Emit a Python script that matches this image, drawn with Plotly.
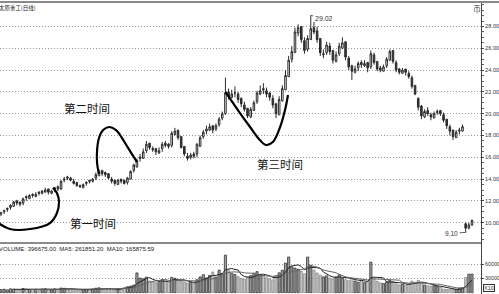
import plotly.graph_objects as go
import pandas as pd

# ---------------- data ----------------
open_ = [
    10.8, 11.0, 11.2, 11.4, 11.5, 12.0, 11.9, 11.8, 12.4, 12.2,
    12.6, 12.4, 12.8, 12.7, 12.8, 13.1, 12.7, 13.0, 13.3, 13.1,
    13.9, 14.2, 14.1, 13.8, 13.7, 13.4, 13.2, 13.6, 13.9, 13.8,
    14.1, 14.3, 14.8, 14.6, 14.5, 14.0, 13.9, 13.5, 14.0, 13.9,
    13.7, 14.0, 14.8, 15.1, 15.9, 15.9, 16.6, 17.3, 16.8, 16.8,
    16.4, 16.8, 17.3, 17.2, 17.1, 18.1, 18.5, 17.9, 17.0, 16.1,
    16.0, 16.3, 16.3, 17.0, 17.9, 18.4, 18.5, 18.9, 18.6, 19.0,
    19.6, 20.0, 22.0, 21.5, 21.9, 21.8, 21.4, 20.8, 20.5, 19.7,
    20.3, 21.1, 21.8, 22.3, 22.1, 21.9, 21.4, 20.9, 19.9, 21.2,
    22.2, 23.4, 25.0, 25.6, 27.4, 28.0, 26.7, 25.9, 26.8, 27.9,
    27.6, 26.9, 25.4, 25.6, 26.2, 25.8, 24.8, 25.5, 26.0, 26.6,
    25.1, 24.4, 23.8, 24.2, 24.7, 24.4, 24.7, 24.3, 25.4, 24.8,
    24.2, 23.9, 24.4, 24.9, 25.8, 24.7, 24.1, 23.7, 24.1, 23.7,
    23.3, 22.6, 21.4, 20.7, 19.7, 20.3, 19.9, 19.6, 20.1, 20.3,
    19.9, 19.5, 18.8, 18.5, 17.8, 18.4, 18.4, 9.9, 9.5, 9.8,
]
high = [
    11.0, 11.2, 11.4, 11.7, 12.0, 12.1, 11.9, 12.3, 12.5, 12.6,
    12.7, 12.8, 12.9, 13.0, 13.2, 13.1, 13.0, 13.3, 13.4, 13.9,
    14.2, 14.3, 14.2, 14.0, 13.7, 13.5, 13.6, 13.8, 13.9, 14.1,
    14.6, 14.9, 14.8, 14.7, 14.5, 14.2, 13.9, 14.0, 14.0, 13.9,
    14.2, 14.8, 15.4, 15.9, 16.3, 16.8, 17.5, 17.3, 17.0, 16.8,
    16.9, 17.4, 17.5, 17.3, 18.4, 18.7, 18.5, 17.9, 17.0, 16.4,
    16.4, 16.5, 17.3, 18.0, 18.5, 18.9, 19.1, 18.9, 19.1, 19.7,
    20.2, 23.3, 22.3, 22.2, 22.5, 22.0, 21.5, 21.1, 20.5, 20.6,
    21.2, 22.1, 22.6, 22.8, 22.4, 22.0, 21.7, 21.0, 21.6, 22.6,
    24.0, 25.3, 26.2, 27.9, 28.2, 28.0, 27.0, 27.2, 29.02, 28.4,
    28.0, 26.9, 25.9, 26.6, 26.5, 25.8, 25.7, 26.5, 27.0, 26.6,
    25.3, 24.5, 24.4, 24.8, 24.9, 24.9, 24.7, 25.8, 25.6, 24.8,
    24.4, 24.5, 25.2, 25.9, 25.8, 24.9, 24.2, 24.2, 24.1, 23.9,
    23.5, 22.6, 21.5, 20.8, 20.4, 20.6, 20.1, 20.2, 20.4, 20.3,
    20.1, 19.5, 19.0, 18.5, 18.5, 18.7, 19.0, 10.0, 10.0, 10.3,
]
low = [
    10.6, 10.8, 11.0, 11.2, 11.5, 11.6, 11.5, 11.6, 12.0, 12.2,
    12.3, 12.4, 12.5, 12.6, 12.8, 12.6, 12.6, 12.8, 12.9, 13.0,
    13.7, 13.9, 13.8, 13.5, 13.3, 13.2, 13.2, 13.4, 13.6, 13.7,
    13.9, 14.3, 14.3, 14.2, 14.0, 13.6, 13.4, 13.5, 13.6, 13.5,
    13.5, 14.0, 14.6, 15.1, 15.6, 15.9, 16.4, 16.7, 16.5, 16.2,
    16.3, 16.5, 16.9, 16.8, 16.9, 18.0, 17.6, 16.8, 16.1, 15.7,
    15.8, 15.9, 16.0, 17.0, 17.7, 18.1, 18.4, 18.2, 18.4, 18.8,
    19.4, 19.9, 21.3, 21.4, 21.5, 21.0, 20.6, 20.2, 19.6, 19.6,
    20.3, 20.9, 21.7, 21.8, 21.5, 21.2, 20.5, 19.6, 19.9, 21.1,
    22.2, 23.4, 24.7, 25.6, 27.1, 26.5, 25.5, 25.7, 26.8, 27.3,
    26.5, 25.3, 25.1, 25.4, 25.4, 24.6, 24.7, 25.3, 26.0, 24.9,
    24.0, 23.1, 23.7, 23.9, 24.2, 24.3, 23.8, 24.1, 24.5, 23.9,
    23.8, 23.9, 24.2, 24.9, 24.6, 23.8, 23.6, 23.7, 23.5, 23.2,
    22.3, 21.7, 20.3, 19.5, 19.6, 19.8, 19.4, 19.6, 19.9, 19.8,
    19.2, 18.6, 18.0, 17.6, 17.8, 18.1, 18.4, 9.1, 9.4, 9.7,
]
close = [
    10.9, 11.1, 11.3, 11.6, 11.9, 11.8, 11.7, 12.2, 12.3, 12.5,
    12.5, 12.6, 12.7, 12.9, 13.0, 12.8, 12.9, 13.2, 13.1, 13.8,
    14.0, 14.1, 13.9, 13.6, 13.4, 13.3, 13.5, 13.7, 13.8, 14.0,
    14.4, 14.7, 14.5, 14.4, 14.1, 13.8, 13.6, 13.9, 13.8, 13.6,
    14.1, 14.7, 15.3, 15.7, 16.0, 16.5, 17.2, 16.9, 16.7, 16.5,
    16.6, 17.2, 17.1, 17.0, 18.2, 18.4, 17.8, 16.9, 16.3, 15.9,
    16.2, 16.1, 17.2, 17.8, 18.3, 18.6, 18.8, 18.5, 18.9, 19.5,
    20.0, 21.9, 21.6, 21.8, 21.9, 21.3, 20.9, 20.4, 19.8, 20.4,
    21.0, 21.9, 22.1, 22.2, 21.8, 21.5, 20.8, 20.0, 21.3, 22.3,
    23.5, 24.9, 25.7, 27.5, 27.9, 26.8, 25.8, 26.9, 27.8, 27.5,
    26.8, 25.6, 25.5, 26.3, 25.7, 24.9, 25.4, 26.2, 26.5, 25.2,
    24.3, 23.9, 24.1, 24.6, 24.5, 24.6, 24.2, 25.5, 24.7, 24.1,
    24.0, 24.3, 25.0, 25.7, 24.8, 24.0, 23.8, 24.0, 23.8, 23.4,
    22.5, 21.8, 20.6, 19.8, 20.2, 20.0, 19.7, 20.0, 20.2, 20.0,
    19.4, 18.9, 18.4, 17.9, 18.3, 18.5, 18.8, 9.5, 9.8, 10.2,
]
volume = [
    6500, 7200, 5800, 8100, 7400, 6200, 5600, 8800, 7900, 6900,
    6100, 7000, 6400, 7600, 8300, 6000, 5400, 7800, 6600, 9800,
    9200, 8400, 7100, 6300, 5600, 5200, 6100, 6900, 7400, 8000,
    9400, 10200, 8600, 7200, 6800, 7500, 6400, 7900, 8800, 11000,
    12500, 13800, 16200, 42000, 31000, 29500, 33000, 24800, 22500, 21000,
    23600, 27800, 25400, 21900, 32400, 30600, 26200, 24000, 22800, 20500,
    21800, 19600, 27400, 33500, 38200, 31400, 36800, 44000, 33000, 48000,
    40500, 80000, 47500, 41200, 38600, 34000, 30200, 28500, 33800, 36200,
    41500, 44800, 38400, 35600, 31800, 29600, 27200, 36500, 42300, 47800,
    63000, 76000, 55200, 52400, 49800, 45600, 40200, 76000, 58500, 48200,
    41800, 37400, 33600, 35800, 31200, 29400, 33200, 38600, 30400, 27600,
    25400, 29800, 24600, 22200, 26800, 21400, 23600, 65000, 28400, 24200,
    20800, 19400, 22600, 26400, 23800, 18600, 16400, 17800, 15600, 19200,
    24600, 21800, 26200, 19800, 16200, 14800, 13600, 15400, 12800, 11600,
    7500, 6800, 7200, 6600, 6800, 9500, 10500, 32000, 39300, 39667.5,
]

price_ticks = [10, 12, 14, 16, 18, 20, 22, 24, 26, 28]
price_tick_labels = ["10.00", "12.00", "14.00", "16.00", "18.00",
                     "20.00", "22.00", "24.00", "26.00", "28.00"]
vol_ticks = [30000, 60000]
vol_tick_labels = ["30000", "60000"]

title_text = "太原重工(日线)"
volume_title = "VOLUME: 396675.00  MA5: 261851.20  MA10: 165875.59"
peak_label = "29.02"
low_label = "9.10"

# hand-drawn marks (in chart coordinates: candle index, price)
curve1_x = [-1.5, 2.8, 9.2, 15.5, 17.7, 18.35, 17.7, 16.4]
curve1_y = [10.1, 9.42, 9.42, 9.97, 10.89, 11.9, 12.72, 13.2]
curve2_x = [31.0, 30.4, 30.4, 31.0, 32.3, 34.2, 36.4, 38.3, 40.2, 41.8, 43.0]
curve2_y = [14.47, 15.48, 16.67, 17.77, 18.5, 18.78, 18.5, 17.77, 16.86, 16.12, 15.57]
curve3_x = [71.0, 75.6, 78.8, 81.9, 83.8, 86.0, 88.3, 89.85, 90.8]
curve3_y = [22.0, 20.06, 18.78, 17.58, 17.13, 17.4, 18.78, 20.34, 21.72]
labels = [("第二时间", 27.2, 20.5), ("第一时间", 29.1, 9.97), ("第三时间", 88.3, 15.4)]

# ---------------- figure ----------------
x = list(range(len(close)))
vs = pd.Series(volume)
ma5 = vs.rolling(5).mean()
ma10 = vs.rolling(10).mean()

up = [c >= o for o, c in zip(open_, close)]
bar_fill = ["#a0a0a0" if u else "#c8c8c8" for u in up]
bar_line = ["#222222" if u else "#808080" for u in up]

fig = go.Figure()
fig.add_trace(go.Candlestick(
    x=x, open=open_, high=high, low=low, close=close,
    increasing=dict(line=dict(color="#2a2a2a", width=1), fillcolor="white"),
    decreasing=dict(line=dict(color="#2a2a2a", width=1), fillcolor="#3a3a3a"),
    whiskerwidth=0, xaxis="x", yaxis="y", hoverinfo="skip", showlegend=False,
))
for cx, cy in [(curve1_x, curve1_y), (curve2_x, curve2_y), (curve3_x, curve3_y)]:
    fig.add_trace(go.Scatter(
        x=cx, y=cy, mode="lines",
        line=dict(color="black", width=2.2, shape="spline", smoothing=1.0),
        xaxis="x", yaxis="y", hoverinfo="skip", showlegend=False,
    ))
fig.add_trace(go.Bar(
    x=x, y=volume, marker=dict(color=bar_fill, line=dict(color=bar_line, width=0.7)),
    xaxis="x2", yaxis="y2", hoverinfo="skip", showlegend=False,
))
fig.add_trace(go.Scatter(x=x, y=ma5, mode="lines", line=dict(color="#222", width=1),
                         xaxis="x2", yaxis="y2", hoverinfo="skip", showlegend=False))
fig.add_trace(go.Scatter(x=x, y=ma10, mode="lines", line=dict(color="#666", width=1),
                         xaxis="x2", yaxis="y2", hoverinfo="skip", showlegend=False))

split = (294 - 243) / 292.0
xr = [-0.316, 151.85]
common_x = dict(range=xr, showticklabels=False, showgrid=False, zeroline=False,
                showline=False, ticks="", automargin=False, fixedrange=True)
price_font = dict(family="Liberation Sans, Arial", size=5.6, color="#333")
vol_font = dict(family="Liberation Sans, Arial", size=5.3, color="#333")

fig.update_layout(
    template="none",
    width=499, height=294,
    margin=dict(l=0, r=18, t=2, b=0, pad=0),
    paper_bgcolor="white", plot_bgcolor="white",
    showlegend=False, bargap=0.3,
    xaxis=dict(domain=[0, 1], anchor="y", rangeslider=dict(visible=False), **common_x),
    xaxis2=dict(domain=[0, 1], anchor="y2", matches="x", **common_x),
    yaxis=dict(
        domain=[split, 1], range=[8.138, 30.248], side="right", anchor="x",
        tickvals=price_ticks, ticktext=price_tick_labels, tickfont=price_font,
        showgrid=True, gridcolor="#9a9a9a", gridwidth=1, griddash="1px,2px",
        zeroline=False, showline=True, linecolor="#444", linewidth=1,
        ticks="outside", ticklen=2, tickcolor="#444", automargin=False,
        minor=dict(ticks="outside", ticklen=2, dtick=0.5, tickcolor="#666", showgrid=False),
    ),
    yaxis2=dict(
        domain=[0, split], range=[-3000, 106000], side="right", anchor="x2",
        tickvals=vol_ticks, ticktext=vol_tick_labels, tickfont=vol_font,
        showgrid=True, gridcolor="#9a9a9a", gridwidth=1, griddash="1px,2px",
        zeroline=False, showline=True, linecolor="#444", linewidth=1,
        ticks="outside", ticklen=2, tickcolor="#444", automargin=False,
    ),
    shapes=[
        dict(type="line", xref="paper", yref="paper", x0=0, x1=1, y0=split, y1=split,
             line=dict(color="#8a8a8a", width=2)),
        dict(type="line", xref="paper", yref="paper", x0=0, x1=1.04, y0=1.0, y1=1.0,
             line=dict(color="#8a8a8a", width=2)),
    ],
)

cjk = "Noto Sans CJK SC"
ann = [
    dict(xref="paper", yref="paper", x=-3 / 481, y=(294 - 8) / 292, xanchor="left",
         yanchor="middle", text=title_text, showarrow=False,
         font=dict(family=cjk, size=5.5, color="#222")),
    dict(xref="paper", yref="paper", x=-3 / 481, y=(294 - 249) / 292, xanchor="left",
         yanchor="middle", text=volume_title, showarrow=False,
         font=dict(family="Liberation Sans, Arial", size=6, color="#222")),
    dict(xref="paper", yref="paper", x=476.5 / 481, y=(294 - 8.5) / 292, xanchor="center",
         yanchor="middle", text="币", showarrow=False,
         font=dict(family=cjk, size=8, color="#444")),
    dict(xref="paper", yref="paper", x=483 / 481, y=(294 - 288) / 292, xanchor="left",
         yanchor="middle", text="X10", showarrow=False, bordercolor="#333",
         borderwidth=1, borderpad=0, font=dict(family="Liberation Sans, Arial", size=5.5, color="#333")),
    dict(x=98, y=29.02, xref="x", yref="y", text=peak_label, showarrow=True,
         arrowhead=0, arrowwidth=0.8, arrowcolor="#333", ax=13, ay=3,
         font=dict(family="Liberation Sans, Arial", size=7, color="#333")),
    dict(x=147, y=9.1, xref="x", yref="y", text=low_label, showarrow=True,
         arrowhead=0, arrowwidth=0.8, arrowcolor="#333", ax=-14, ay=0.5,
         font=dict(family="Liberation Sans, Arial", size=6.5, color="#333")),
]
for t, lx, ly in labels:
    ann.append(dict(x=lx, y=ly, xref="x", yref="y", text=t, showarrow=False,
                    font=dict(family=cjk, size=11.5, color="#111")))
fig.update_layout(annotations=ann)

fig.write_html("out.html")
